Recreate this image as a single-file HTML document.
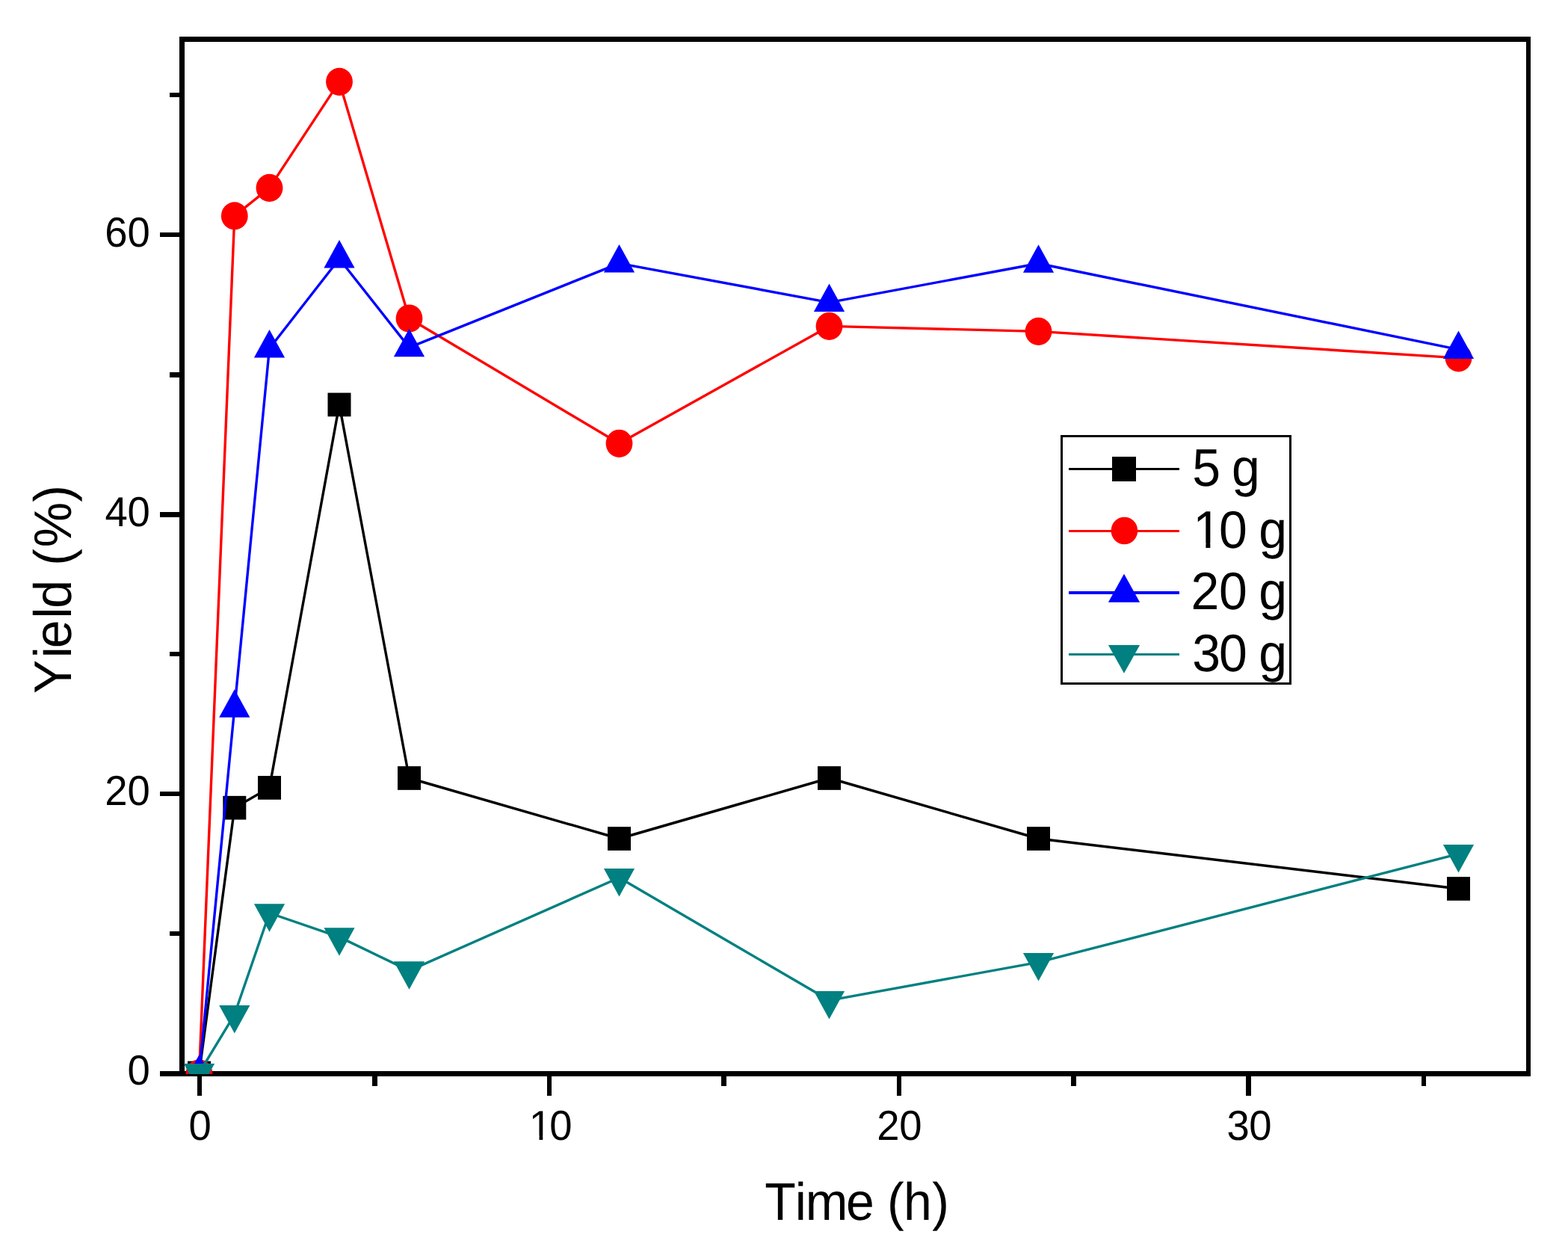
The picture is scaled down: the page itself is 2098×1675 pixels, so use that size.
<!DOCTYPE html>
<html><head><meta charset="utf-8"><title>Yield vs Time</title>
<style>html,body{margin:0;padding:0;background:#fff;}svg{display:block;}text{font-family:"Liberation Sans",Arial,sans-serif;fill:#000;text-rendering:geometricPrecision;}</style></head><body>
<svg width="2098" height="1675" viewBox="0 0 2098 1675">
<rect x="0" y="0" width="2098" height="1675" fill="#fff"/>
<defs><clipPath id="pc"><rect x="243.5" y="52.5" width="1801.5" height="1384.5"/></clipPath></defs>
<g shape-rendering="crispEdges" fill="#000">
<rect x="240" y="49" width="7" height="1391"/>
<rect x="2042" y="49" width="6" height="1391"/>
<rect x="240" y="49" width="1808" height="7"/>
<rect x="214" y="1433" width="1834" height="7"/>
<rect x="227" y="1246" width="13" height="6"/>
<rect x="214" y="1059" width="26" height="6"/>
<rect x="227" y="872" width="13" height="6"/>
<rect x="214" y="685" width="26" height="7"/>
<rect x="227" y="498" width="13" height="7"/>
<rect x="214" y="311" width="26" height="6"/>
<rect x="227" y="124" width="13" height="6"/>
<rect x="264" y="1440" width="6" height="26"/>
<rect x="498" y="1440" width="7" height="13"/>
<rect x="732" y="1440" width="6" height="26"/>
<rect x="965" y="1440" width="7" height="13"/>
<rect x="1200" y="1440" width="6" height="26"/>
<rect x="1433" y="1440" width="7" height="13"/>
<rect x="1667" y="1440" width="7" height="26"/>
<rect x="1902" y="1440" width="6" height="13"/>
</g>
<g clip-path="url(#pc)">
<polyline points="266.5,1435.5 313.8,1080.7 360.5,1053.9 454,541.4 547.5,1041 828.5,1122 1109.5,1041 1389.5,1122 1951.5,1189" fill="none" stroke="#000000" stroke-width="3.4" stroke-linejoin="round" stroke-linecap="round"/>
<rect x="251" y="1419.65" width="31" height="31.7" fill="#000000"/>
<rect x="298.3" y="1064.85" width="31" height="31.7" fill="#000000"/>
<rect x="345" y="1038.05" width="31" height="31.7" fill="#000000"/>
<rect x="438.5" y="525.55" width="31" height="31.7" fill="#000000"/>
<rect x="532" y="1025.15" width="31" height="31.7" fill="#000000"/>
<rect x="813" y="1106.15" width="31" height="31.7" fill="#000000"/>
<rect x="1094" y="1025.15" width="31" height="31.7" fill="#000000"/>
<rect x="1374" y="1106.15" width="31" height="31.7" fill="#000000"/>
<rect x="1936" y="1173.15" width="31" height="31.7" fill="#000000"/>
<polyline points="266.5,1436 313.8,288.9 360.5,251.4 454,109.4 547.5,426 828.5,593.3 1109.5,436.4 1389.5,443.4 1951.5,478.9" fill="none" stroke="#ff0000" stroke-width="3.4" stroke-linejoin="round" stroke-linecap="round"/>
<ellipse cx="266.5" cy="1436" rx="17.9" ry="18.6" fill="#ff0000"/>
<ellipse cx="313.8" cy="288.9" rx="17.9" ry="18.6" fill="#ff0000"/>
<ellipse cx="360.5" cy="251.4" rx="17.9" ry="18.6" fill="#ff0000"/>
<ellipse cx="454" cy="109.4" rx="17.9" ry="18.6" fill="#ff0000"/>
<ellipse cx="547.5" cy="426" rx="17.9" ry="18.6" fill="#ff0000"/>
<ellipse cx="828.5" cy="593.3" rx="17.9" ry="18.6" fill="#ff0000"/>
<ellipse cx="1109.5" cy="436.4" rx="17.9" ry="18.6" fill="#ff0000"/>
<ellipse cx="1389.5" cy="443.4" rx="17.9" ry="18.6" fill="#ff0000"/>
<ellipse cx="1951.5" cy="478.9" rx="17.9" ry="18.6" fill="#ff0000"/>
<polyline points="266.5,1436.3 313.8,947.5 360.5,466.2 454,346.2 547.5,464.9 828.5,352.3 1109.5,404.6 1389.5,352.5 1951.5,467.6" fill="none" stroke="#0000ff" stroke-width="3.4" stroke-linejoin="round" stroke-linecap="round"/>
<polygon points="266.5,1411.1 287.1,1448.6 245.9,1448.6" fill="#0000ff"/>
<polygon points="313.8,922.3 334.4,959.8 293.2,959.8" fill="#0000ff"/>
<polygon points="360.5,441 381.1,478.5 339.9,478.5" fill="#0000ff"/>
<polygon points="454,321 474.6,358.5 433.4,358.5" fill="#0000ff"/>
<polygon points="547.5,439.7 568.1,477.2 526.9,477.2" fill="#0000ff"/>
<polygon points="828.5,327.1 849.1,364.6 807.9,364.6" fill="#0000ff"/>
<polygon points="1109.5,379.4 1130.1,416.9 1088.9,416.9" fill="#0000ff"/>
<polygon points="1389.5,327.3 1410.1,364.8 1368.9,364.8" fill="#0000ff"/>
<polygon points="1951.5,442.4 1972.1,479.9 1930.9,479.9" fill="#0000ff"/>
<polyline points="266.5,1435.4 313.8,1357.3 360.5,1221.5 454,1253.6 547.5,1298.6 828.5,1174.3 1109.5,1338.3 1389.5,1287.4 1951.5,1142.3" fill="none" stroke="#008080" stroke-width="3.4" stroke-linejoin="round" stroke-linecap="round"/>
<polygon points="245.9,1423.1 287.1,1423.1 266.5,1460.6" fill="#008080"/>
<polygon points="293.2,1345 334.4,1345 313.8,1382.5" fill="#008080"/>
<polygon points="339.9,1209.2 381.1,1209.2 360.5,1246.7" fill="#008080"/>
<polygon points="433.4,1241.3 474.6,1241.3 454,1278.8" fill="#008080"/>
<polygon points="526.9,1286.3 568.1,1286.3 547.5,1323.8" fill="#008080"/>
<polygon points="807.9,1162 849.1,1162 828.5,1199.5" fill="#008080"/>
<polygon points="1088.9,1326 1130.1,1326 1109.5,1363.5" fill="#008080"/>
<polygon points="1368.9,1275.1 1410.1,1275.1 1389.5,1312.6" fill="#008080"/>
<polygon points="1930.9,1130 1972.1,1130 1951.5,1167.5" fill="#008080"/>
</g>
<text transform="translate(0,1450.7) scale(1,1.03)" x="170.42" y="0" font-size="54.5">0</text>
<text transform="translate(0,1076.7) scale(1,1.03)" x="140.18 170.42" y="0" font-size="54.5">20</text>
<text transform="translate(0,703.8) scale(1,1.03)" x="140.54 170.42" y="0" font-size="54.5">40</text>
<text transform="translate(0,329.6) scale(1,1.03)" x="140.18 170.42" y="0" font-size="54.5">60</text>
<text transform="translate(0,1524.6) scale(1,1.03)" x="252.62" y="0" font-size="54.5">0</text>
<text transform="translate(0,1524.9) scale(1,1.03)" x="707.8 735.32" y="0" font-size="54.5" clip-path="url(#one0)">10</text>
<text transform="translate(0,1524.9) scale(1,1.03)" x="1173.28 1203.32" y="0" font-size="54.5">20</text>
<text transform="translate(0,1524.8) scale(1,1.03)" x="1641.62 1671.32" y="0" font-size="54.5">30</text>
<text transform="translate(0,1631.8) scale(1,1.04)" x="1023.2 1063.68 1077.68 1131.94 1169.76 1187.02 1209.04 1247.32" y="0" font-size="68">Time (h)</text>
<text transform="translate(95,0) rotate(-90) scale(1,1.04)" x="-927.9 -880.22 -867.16 -827.42 -813.72 -775.9 -756.78 -732.18 -671.68" y="0" font-size="68">Yield (%)</text>
<rect x="1420.5" y="583.5" width="306" height="331" fill="#fff" stroke="#000" stroke-width="3" shape-rendering="crispEdges"/>
<rect x="1430" y="626" width="148" height="3" fill="#000000" shape-rendering="crispEdges"/>
<rect x="1488" y="611" width="32" height="33" fill="#000000"/>
<rect x="1430" y="709" width="148" height="3" fill="#ff0000" shape-rendering="crispEdges"/>
<ellipse cx="1504.4" cy="710" rx="17.8" ry="18.3" fill="#ff0000"/>
<rect x="1430" y="791" width="148" height="4" fill="#0000ff" shape-rendering="crispEdges"/>
<polygon points="1504,767.8 1525.1,805.7 1482.9,805.7" fill="#0000ff"/>
<rect x="1430" y="874" width="148" height="3" fill="#008080" shape-rendering="crispEdges"/>
<polygon points="1482.9,862.9 1525.1,862.9 1504,900.8" fill="#008080"/>
<text transform="translate(0,649.9) scale(1,1.04)" x="1595.18 1633 1647.98" y="0" font-size="68">5 g</text>
<text transform="translate(0,732.9) scale(1,1.04)" x="1596.3 1630.98 1668.8 1684.18" y="0" font-size="68" clip-path="url(#one1)">10 g</text>
<text transform="translate(0,814.9) scale(1,1.04)" x="1593.6 1630.98 1668.8 1684.18" y="0" font-size="68">20 g</text>
<text transform="translate(0,898.1) scale(1,1.04)" x="1595.18 1630.98 1668.8 1684.18" y="0" font-size="68">30 g</text>
<defs><clipPath id="one0" clipPathUnits="userSpaceOnUse"><rect x="702.8" y="-65.4" width="327" height="60.18"/><rect x="721.51" y="-16.35" width="4.77" height="32.7"/><rect x="736.06" y="-65.4" width="327" height="87.2"/></clipPath><clipPath id="one1" clipPathUnits="userSpaceOnUse"><rect x="1591.3" y="-81.6" width="408" height="75.33"/><rect x="1613.4" y="-20.4" width="5.95" height="40.8"/><rect x="1631.41" y="-81.6" width="408" height="108.8"/></clipPath></defs>
</svg></body></html>
